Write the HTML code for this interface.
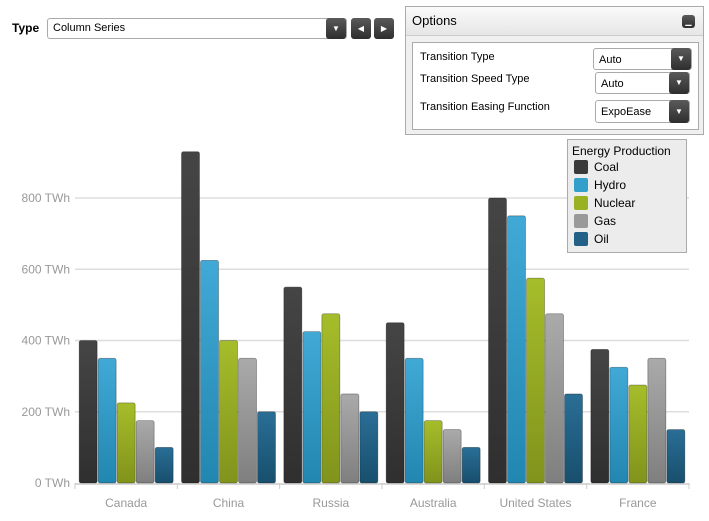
<!DOCTYPE html>
<html><head><meta charset="utf-8"><style>
body{margin:0;width:709px;height:521px;background:#fff;font-family:"Liberation Sans",sans-serif;position:relative;overflow:hidden}
.abs{position:absolute}
.btn{position:absolute;background:linear-gradient(#5a5a5a,#2e2e2e);border-radius:3px;color:#fff;font-size:8px;text-align:center}
.sel{position:absolute;border:1px solid #aaa;border-radius:3px;background:#fff;font-size:11px;box-sizing:border-box;padding-left:5px}
</style></head><body>
<div class="abs" style="left:12px;top:21px;font-size:12px;font-weight:bold">Type</div>
<div class="sel" style="left:47px;top:18px;width:300px;height:21px;line-height:19px">Column Series
<div class="btn" style="right:0;top:-1px;width:20px;height:21px;line-height:21px">▼</div></div>
<div class="btn" style="left:351px;top:18px;width:20px;height:21px;line-height:21px">◀</div>
<div class="btn" style="left:374px;top:18px;width:20px;height:21px;line-height:21px">▶</div>
<div class="abs" style="left:405px;top:6px;width:299px;height:129px;border:1px solid #aaa;background:#f0f0f0;box-sizing:border-box">
<div style="height:28px;line-height:28px;padding-left:6px;font-size:13px;background:linear-gradient(#fafafa,#e6e6e6);border-bottom:1px solid #ccc">Options</div>
<div class="btn" style="left:276px;top:8px;width:13px;height:13px;line-height:13px">▁</div>
<div class="abs" style="left:6px;top:35px;width:285px;height:86px;border:1px solid #aaa;background:#fff"></div>
<div class="abs" style="left:14px;top:44px;font-size:11px">Transition Type</div>
<div class="abs" style="left:14px;top:66px;font-size:11px">Transition Speed Type</div>
<div class="abs" style="left:14px;top:94px;font-size:11px">Transition Easing Function</div>
<div class="sel" style="left:187px;top:41px;width:99px;height:22px;line-height:22px">Auto<div class="btn" style="right:0;top:-1px;width:20px;height:22px;line-height:22px">▼</div></div>
<div class="sel" style="left:189px;top:65px;width:95px;height:22px;line-height:22px">Auto<div class="btn" style="right:0;top:-1px;width:20px;height:22px;line-height:22px">▼</div></div>
<div class="sel" style="left:189px;top:93px;width:95px;height:23px;line-height:23px">ExpoEase<div class="btn" style="right:0;top:-1px;width:20px;height:23px;line-height:23px">▼</div></div>
</div>
<svg class="abs" style="left:0;top:0" width="709" height="521" id="chart">
<defs>
<linearGradient id="g0" x1="0" y1="0" x2="0" y2="1"><stop offset="0" stop-color="#454545"/><stop offset="1" stop-color="#2f2f2f"/></linearGradient>
<linearGradient id="g1" x1="0" y1="0" x2="0" y2="1"><stop offset="0" stop-color="#41a9d6"/><stop offset="1" stop-color="#2287b0"/></linearGradient>
<linearGradient id="g2" x1="0" y1="0" x2="0" y2="1"><stop offset="0" stop-color="#a6bd2a"/><stop offset="1" stop-color="#81931c"/></linearGradient>
<linearGradient id="g3" x1="0" y1="0" x2="0" y2="1"><stop offset="0" stop-color="#aaaaaa"/><stop offset="1" stop-color="#7f7f7f"/></linearGradient>
<linearGradient id="g4" x1="0" y1="0" x2="0" y2="1"><stop offset="0" stop-color="#2a6e96"/><stop offset="1" stop-color="#184f6d"/></linearGradient>
</defs>
</svg>
<div class="abs" style="left:567px;top:139px;width:120px;height:114px;border:1px solid #aaa;background:#ececec;box-sizing:border-box;font-size:12px">
<div style="padding:4px 0 0 4px">Energy Production</div>
<div id="leg"></div></div>
<script>
const categories=["Canada","China","Russia","Australia","United States","France"];
const seriesNames=["Coal","Hydro","Nuclear","Gas","Oil"];
const coal=[400,930,550,450,800,375];
const hydro=[350,625,425,350,750,325];
const nuclear=[225,400,475,175,575,275];
const gas=[175,350,250,150,475,350];
const oil=[100,200,200,100,250,150];
const yTicks=[0,200,400,600,800];
const series=[coal,hydro,nuclear,gas,oil];
const cols=["#3a3a3a","#33a0cc","#99b224","#999","#226088"];
const svg=document.getElementById('chart');
const NS="http://www.w3.org/2000/svg";
const x0=75,x1=689,y0=483,k=285/800;
const y=v=>y0-v*k;
const cw=(x1-x0)/categories.length;
function mk(t,a){const e=document.createElementNS(NS,t);for(const n in a)e.setAttribute(n,a[n]);svg.appendChild(e);return e;}
yTicks.forEach(t=>{
 if(t>0){const l=mk('line',{x1:x0,x2:x1,y1:y(t),y2:y(t),stroke:'#ddd','stroke-width':1.5});
 
 }
 const tx=mk('text',{x:70,y:y(t)+4,'text-anchor':'end','font-size':12,fill:'#999'});
 tx.textContent=t+' TWh';
 
 
});
mk('line',{x1:x0,x2:x1,y1:y0+1,y2:y0+1,stroke:'#ccc','stroke-width':1.5});
categories.forEach((c,i)=>{
 const cx=x0+cw*i;
 mk('line',{x1:cx,x2:cx,y1:y0,y2:y0+6,stroke:'#ccc'});
 if(i==categories.length-1)mk('line',{x1:x1,x2:x1,y1:y0,y2:y0+6,stroke:'#ccc'});
 const tx=mk('text',{x:cx+cw/2,y:507,'text-anchor':'middle','font-size':12,fill:'#999'});
 tx.textContent=c;
 
 
 const bw=18,gap=1,start=cx+cw/2-(5*bw+4*gap)/2;
 series.forEach((s,j)=>{
  const r=mk('rect',{x:start+j*(bw+gap),y:y(s[i]),width:bw,height:s[i]*k,rx:2,fill:'url(#g'+j+')',stroke:'rgba(0,0,0,0.35)','stroke-width':0.8});
  
  
 });
});
const leg=document.getElementById('leg');
seriesNames.forEach((n,j)=>{
 const d=document.createElement('div');
 
 
 d.style.cssText='height:18px;line-height:18px;padding-left:6px;display:flex;align-items:center';
 d.innerHTML='<span style="display:inline-block;width:14px;height:14px;border-radius:2px;background:'+cols[j]+';margin-right:6px"></span>'+n;
 leg.appendChild(d);
});
</script>
</body></html>
